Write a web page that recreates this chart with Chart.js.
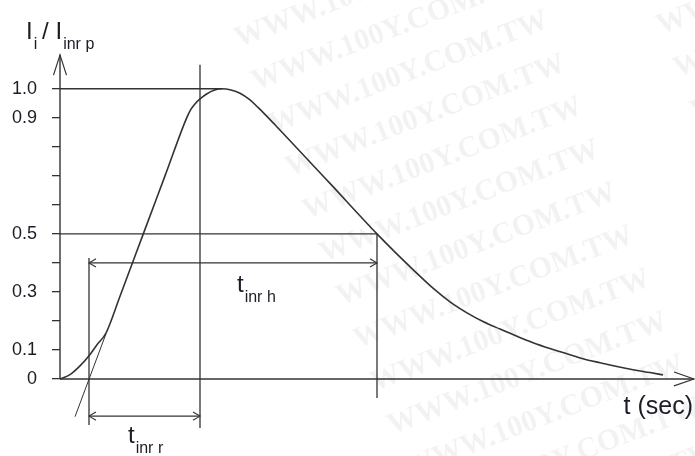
<!DOCTYPE html>
<html>
<head>
<meta charset="utf-8">
<script src="https://cdn.jsdelivr.net/npm/chart.js@4/dist/chart.umd.min.js"></script>
<style>
  html, body { margin: 0; padding: 0; background: #ffffff; }
  #wrap { width: 695px; height: 456px; }
</style>
</head>
<body>
<div id="wrap"><canvas id="c" width="695" height="456"></canvas></div>
<script>
// ---- data (time in arbitrary units, current as I_i / I_inr p) ----
const timeValues    = [0, 1.0, 2.0, 2.9, 3.7, 4.6, 6.0, 8.33, 10.5, 12.67, 13.1, 13.5, 14.0, 14.7, 15.4, 16.2, 17.0, 18.0, 19.0, 19.8, 20.67, 21.5, 22.3, 27.0, 31.7, 33.5, 35.3, 37.3, 39.0, 40.7, 42.3, 44.0, 45.7, 47.3, 49.0, 50.7, 52.3, 54.0, 55.7, 57.3, 59.0, 60.3];
const currentValues = [0, 0.015, 0.045, 0.08, 0.118, 0.158, 0.285, 0.5, 0.7, 0.9, 0.93, 0.948, 0.965, 0.983, 0.995, 1.0, 0.997, 0.985, 0.962, 0.936, 0.906, 0.876, 0.847, 0.674, 0.5, 0.437, 0.377, 0.313, 0.266, 0.228, 0.198, 0.172, 0.147, 0.125, 0.105, 0.087, 0.070, 0.056, 0.043, 0.032, 0.022, 0.014];

// rise tangent (construction line)
const tangentTime    = [1.5, 4.6];
const tangentCurrent = [-0.130, 0.156];

// characteristic times
const tRiseStart = 2.9;   // tangent crosses zero
const tRiseEnd   = 14.0;  // end of rise time
const tPeak      = 16.2;  // peak
const tHalf      = 31.7;  // half value on the tail

// reference levels
const levelPeak = 1.0;
const levelHalf = 0.5;
const levelHalfArrow = 0.4;
const levelRiseArrow = -0.128;

// axes extents
const xMin = 0, xMax = 63.4;
const yMin = -0.2, yMax = 1.12;
const yAxisTop = 1.117;

// ticks
const yTickValues = [0, 0.1, 0.2, 0.3, 0.4, 0.5, 0.6, 0.7, 0.8, 0.9, 1.0];
const yTickLabels = ['0', '0.1', '', '0.3', '', '0.5', '', '', '', '0.9', '1.0'];

// ---- helpers ----
const LINE = '#333333';
const TEXT = '#1c1c26';
const FONT = '"Liberation Sans", Arial, sans-serif';
const pts = (xs, ys) => xs.map((x, i) => ({ x: x, y: ys[i] }));
const seg = (data, width) => ({
  data: data, borderColor: LINE, borderWidth: width || 1.3,
  pointRadius: 0, fill: false, tension: 0, showLine: true, clip: false
});
const arrowDX = 0.7, arrowDY = 0.014;

const datasets = [
  Object.assign(seg(pts(timeValues, currentValues), 1.6), { cubicInterpolationMode: 'monotone' }),
  seg(pts(tangentTime, tangentCurrent), 1.0),
  seg([{ x: 0, y: 0 }, { x: 0, y: yAxisTop }], 1.4),
  seg([{ x: -0.65, y: yAxisTop - 0.07 }, { x: 0, y: yAxisTop }, { x: 0.65, y: yAxisTop - 0.07 }], 1.2),
  seg([{ x: 0, y: 0 }, { x: xMax, y: 0 }], 1.4),
  seg([{ x: xMax - 2.0, y: 0.024 }, { x: xMax, y: 0 }, { x: xMax - 2.0, y: -0.024 }], 1.2),
  seg([{ x: 0, y: levelPeak }, { x: tPeak, y: levelPeak }], 1.4),
  seg([{ x: 0, y: levelHalf }, { x: tHalf, y: levelHalf }], 1.4),
  seg([{ x: tRiseEnd, y: 1.083 }, { x: tRiseEnd, y: -0.169 }], 1.3),
  seg([{ x: tRiseStart, y: 0.417 }, { x: tRiseStart, y: -0.159 }], 1.3),
  seg([{ x: tHalf, y: levelHalf }, { x: tHalf, y: -0.066 }], 1.3),
  seg([{ x: tRiseStart, y: levelHalfArrow }, { x: tHalf, y: levelHalfArrow }], 1.3),
  seg([{ x: tRiseStart + arrowDX, y: levelHalfArrow + arrowDY }, { x: tRiseStart, y: levelHalfArrow }, { x: tRiseStart + arrowDX, y: levelHalfArrow - arrowDY }], 1.1),
  seg([{ x: tHalf - arrowDX, y: levelHalfArrow + arrowDY }, { x: tHalf, y: levelHalfArrow }, { x: tHalf - arrowDX, y: levelHalfArrow - arrowDY }], 1.1),
  seg([{ x: tRiseStart, y: levelRiseArrow }, { x: tRiseEnd, y: levelRiseArrow }], 1.3),
  seg([{ x: tRiseStart + arrowDX, y: levelRiseArrow + arrowDY }, { x: tRiseStart, y: levelRiseArrow }, { x: tRiseStart + arrowDX, y: levelRiseArrow - arrowDY }], 1.1),
  seg([{ x: tRiseEnd - arrowDX, y: levelRiseArrow + arrowDY }, { x: tRiseEnd, y: levelRiseArrow }, { x: tRiseEnd - arrowDX, y: levelRiseArrow - arrowDY }], 1.1)
];

// text labels anchored in data coordinates
const labelTexts = [
  { main: 'I', sub: 'i', t: -3.4, v: 1.172, size: 24, align: 'left' },
  { main: '/', sub: '', t: -1.8, v: 1.172, size: 24, align: 'left' },
  { main: 'I', sub: 'inr p', t: -0.45, v: 1.172, size: 24, align: 'left' },
  { main: 't', sub: 'inr h', t: 17.7, v: 0.300, size: 24, align: 'left' },
  { main: 't', sub: 'inr r', t: 6.8, v: -0.221, size: 24, align: 'left' },
  { main: 't (sec)', sub: '', t: 63.3, v: -0.121, size: 25, align: 'right' }
];
const SUB_SIZE = 16, SUB_DROP = 10;

const watermarkPlugin = {
  id: 'watermark',
  beforeDatasetsDraw(chart) {
    const ctx = chart.ctx;
    ctx.save();
    ctx.font = 'bold 30px "Liberation Serif", "DejaVu Serif", serif';
    ctx.fillStyle = 'rgba(0,0,0,0.05)';
    ctx.textAlign = 'right';
    ctx.textBaseline = 'alphabetic';
    const ang = -21 * Math.PI / 180;
    for (let k = -3; k <= 9; k++) {
      const ex = 567 + 17 * k, ey = 70 + 43 * k;
      [[0, 0], [371, -142]].forEach(([ox, oy]) => {
        ctx.save();
        ctx.translate(ex + ox, ey + oy);
        ctx.rotate(ang);
        ctx.fillText('WWW.100Y.COM.TW', 0, 0);
        ctx.restore();
      });
    }
    ctx.restore();
  }
};

const labelPlugin = {
  id: 'labels',
  afterDraw(chart) {
    const ctx = chart.ctx;
    const xs = chart.scales.x, ys = chart.scales.y;
    ctx.save();
    ctx.fillStyle = TEXT;
    ctx.textBaseline = 'alphabetic';
    ctx.textAlign = 'left';
    labelTexts.forEach(l => {
      const px = xs.getPixelForValue(l.t);
      const py = ys.getPixelForValue(l.v);
      ctx.font = l.size + 'px ' + FONT;
      const w = ctx.measureText(l.main).width;
      ctx.font = SUB_SIZE + 'px ' + FONT;
      const ws = l.sub ? ctx.measureText(l.sub).width + 1 : 0;
      const x0 = l.align === 'right' ? px - w - ws : px;
      ctx.font = l.size + 'px ' + FONT;
      ctx.fillText(l.main, x0, py);
      if (l.sub) {
        ctx.font = SUB_SIZE + 'px ' + FONT;
        ctx.fillText(l.sub, x0 + w + 1, py + SUB_DROP);
      }
    });
    ctx.restore();
  }
};

new Chart(document.getElementById('c'), {
  type: 'scatter',
  data: { datasets: datasets },
  options: {
    responsive: false,
    animation: false,
    events: [],
    layout: { padding: { top: 54, right: 1, bottom: 19, left: 0 } },
    plugins: { legend: { display: false }, tooltip: { enabled: false } },
    scales: {
      x: { type: 'linear', min: xMin, max: xMax, display: false },
      y: {
        type: 'linear', min: yMin, max: yMax,
        afterFit(scale) {
          scale.width = 60;
          scale.paddingTop = 0;
          scale.paddingBottom = 0;
        },
        afterBuildTicks(scale) { scale.ticks = yTickValues.map(v => ({ value: v })); },
        border: { display: false },
        grid: { drawOnChartArea: false, drawTicks: true, tickLength: 8, color: LINE, lineWidth: 1.3 },
        ticks: {
          padding: 15,
          color: TEXT,
          font: { family: FONT, size: 18 },
          callback: (value) => {
            const i = yTickValues.findIndex(v => Math.abs(v - value) < 1e-6);
            return i >= 0 ? yTickLabels[i] : '';
          }
        }
      }
    }
  },
  plugins: [watermarkPlugin, labelPlugin]
});
</script>
</body>
</html>
